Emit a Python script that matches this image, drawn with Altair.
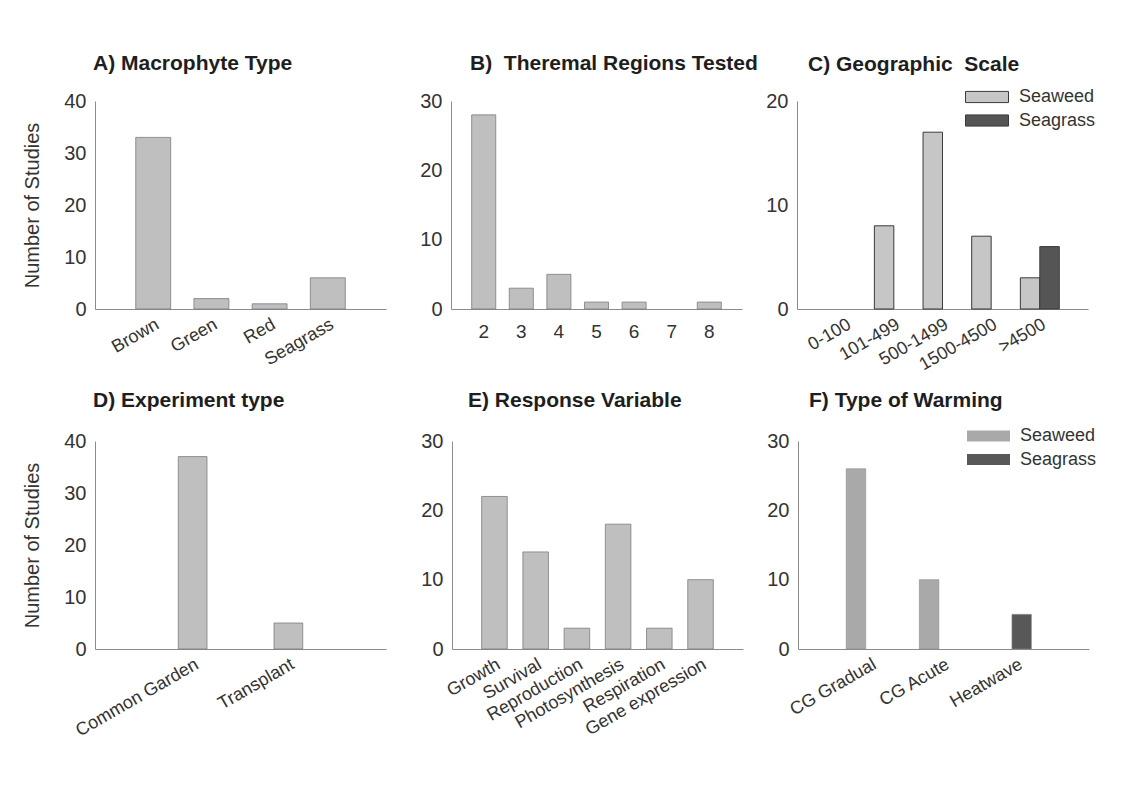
import altair as alt
import pandas as pd

# ---------------- data ----------------
macrophyte_types = ["Brown", "Green", "Red", "Seagrass"]
macrophyte_counts = [33, 2, 1, 6]

thermal_regions = ["2", "3", "4", "5", "6", "7", "8"]
thermal_counts = [28, 3, 5, 1, 1, 0, 1]

geo_scales = ["0-100", "101-499", "500-1499", "1500-4500", ">4500"]
geo_seaweed = [0, 8, 17, 7, 3]
geo_seagrass = [0, 0, 0, 0, 6]

experiment_types = ["Common Garden", "Transplant"]
experiment_counts = [37, 5]

response_vars = ["Growth", "Survival", "Reproduction", "Photosynthesis", "Respiration", "Gene expression"]
response_counts = [22, 14, 3, 18, 3, 10]

warming_types = ["CG Gradual", "CG Acute", "Heatwave"]
warming_seaweed = [26, 10, 0]
warming_seagrass = [0, 0, 5]

groups = ["Seaweed", "Seagrass"]

FONT = "Liberation Sans"
W, H = 291, 208
TXT = "#333333"


def title(text, dx, offset):
    return alt.TitleParams(text=text, anchor="start", frame="group", dx=dx, offset=offset,
                           baseline="alphabetic", fontSize=21, fontWeight="bold",
                           font=FONT, color="#1e1e1e")


def y_axis(vals, ext, ytitle):
    kw = dict(values=vals, minExtent=ext, maxExtent=ext, labelPadding=9, ticks=False,
              labelFontSize=20)
    if ytitle:
        return alt.Axis(title="Number of Studies", titlePadding=25, titleFontSize=20,
                        titleFontWeight="normal", titleFont=FONT, titleColor=TXT, **kw)
    return alt.Axis(title=None, **kw)


def x_axis(angle):
    if angle == 0:
        return alt.Axis(title=None, labelAngle=0, labelAlign="center", labelBaseline="top",
                        labelPadding=13, ticks=False, labelFontSize=19)
    return alt.Axis(title=None, labelAngle=angle, labelAlign="right", labelBaseline="top",
                    labelPadding=6, ticks=False)


def simple_panel(cats, counts, ttl, tdx, toff, ymax, vals, ext, ytitle, pi, po, angle):
    df = pd.DataFrame({"cat": cats, "n": counts})
    df = df[df["n"] > 0]
    return alt.Chart(df, title=title(ttl, tdx, toff)).mark_bar(
        color="#bfbfbf", stroke="#7c7c7c", strokeWidth=0.8
    ).encode(
        x=alt.X("cat:N", scale=alt.Scale(domain=cats, paddingInner=pi, paddingOuter=po),
                axis=x_axis(angle)),
        y=alt.Y("n:Q", scale=alt.Scale(domain=[0, ymax], nice=False),
                axis=y_axis(vals, ext, ytitle)),
    ).properties(width=W, height=H)


def grouped_panel(cats, sw, sg, ttl, tdx, toff, ymax, vals, ext, pi, po,
                  colors, stroke, sw_width, legx, legy, legstroke):
    rows = []
    for c, a, b in zip(cats, sw, sg):
        rows.append({"cat": c, "type": "Seaweed", "n": a})
        rows.append({"cat": c, "type": "Seagrass", "n": b})
    df = pd.DataFrame(rows)
    df = df[df["n"] > 0]
    legend = alt.Legend(title=None, orient="none", legendX=legx, legendY=legy,
                        symbolType="M-1,-0.26H1V0.26H-1Z", symbolSize=1849,
                        symbolStrokeColor=legstroke,
                        symbolStrokeWidth=1 if legstroke != "transparent" else 0,
                        symbolOpacity=1,
                        labelFontSize=18, labelFont=FONT, labelColor=TXT, labelOffset=10,
                        clipHeight=20, rowPadding=3.5, padding=0)
    return alt.Chart(df, title=title(ttl, tdx, toff)).mark_bar(
        stroke=stroke, strokeWidth=sw_width
    ).encode(
        x=alt.X("cat:N", scale=alt.Scale(domain=cats, paddingInner=pi, paddingOuter=po),
                axis=x_axis(-30)),
        xOffset=alt.XOffset("type:N", scale=alt.Scale(domain=groups)),
        y=alt.Y("n:Q", scale=alt.Scale(domain=[0, ymax], nice=False),
                axis=y_axis(vals, ext, False)),
        color=alt.Color("type:N", scale=alt.Scale(domain=groups, range=colors), legend=legend),
    ).properties(width=W, height=H)


A = simple_panel(macrophyte_types, macrophyte_counts, "A) Macrophyte Type", -2, 0,
                 40, [0, 10, 20, 30, 40], 28, True, 0.4, 0.7, -30)
B = simple_panel(thermal_regions, thermal_counts, "B)\u00a0 Theremal Regions Tested", 19, 0,
                 30, [0, 10, 20, 30], 58, False, 0.36, 0.55, 0)
C = grouped_panel(geo_scales, geo_seaweed, geo_seagrass, "C) Geographic\u00a0 Scale", 11, -5,
                  20, [0, 10, 20], 19, 0.2, 0.59, ["#c6c6c6", "#555555"], "#3a3a3a", 1,
                  168, -14, "#3a3a3a")

D = simple_panel(experiment_types, experiment_counts, "D) Experiment type", -2, 3,
                 40, [0, 10, 20, 30, 40], 28, True, 0.7, 0.87, -30)
E = simple_panel(response_vars, response_counts, "E) Response Variable", 16, 3,
                 30, [0, 10, 20, 30], 43, False, 0.38, 0.72, -30)
F = grouped_panel(warming_types, warming_seaweed, warming_seagrass, "F) Type of Warming", 11, -2,
                  30, [0, 10, 20, 30], 15, 0.34, 0.66, ["#a9a9a9", "#585858"], "#8a8a8a", 0.6,
                  169, -15, "transparent")

row1 = alt.hconcat(A, B, C, spacing=7).resolve_scale(color="independent").resolve_legend(color="independent")
row2 = alt.hconcat(D, E, F, spacing=23).resolve_scale(color="independent").resolve_legend(color="independent")

chart = alt.vconcat(row1, row2, spacing=16).resolve_scale(color="independent").resolve_legend(
    color="independent"
).properties(
    padding={"left": 14, "top": 45, "right": 5, "bottom": 5},
    background="white",
).configure_view(stroke=None).configure_axis(
    domainColor="#8c8c8c", domainWidth=1, grid=False,
    labelFont=FONT, labelFontSize=18, labelColor=TXT,
).configure_legend(symbolLimit=0)

chart.save("out.html", embed_options={"renderer": "svg", "actions": False})
